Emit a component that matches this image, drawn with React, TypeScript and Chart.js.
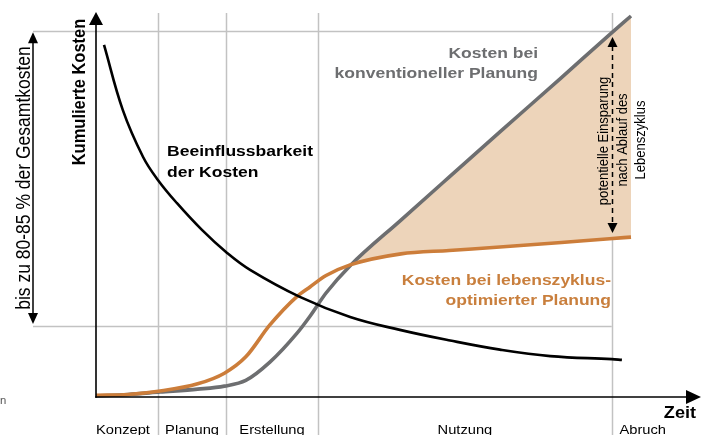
import React, { useEffect, useRef } from 'react';
import { Chart, registerables } from 'chart.js';

Chart.register(...registerables);

// ---------- data ----------
const phaseLabels = ['Konzept', 'Planung', 'Erstellung', 'Nutzung', 'Abruch'];
const phaseBounds = [11.6, 24.3, 41.5, 96.4]; // time at which a phase ends
const budgetBand = [18.4, 96.0]; // "bis zu 80-85 % der Gesamtkosten"

const timeAxis = [0, 6, 12, 19, 24, 28, 32.5, 37.5, 40, 43, 47.5, 57, 66, 75.5, 87, 96, 100];
const conventionalCost = [0, 0.4, 1.05, 1.8, 2.6, 4.1, 8.9, 16.4, 21.0, 27.1, 34.3, 46.3, 57.6, 69.5, 83.8, 95.1, 100];
const lifecycleCost = [0.2, 0.4, 1.3, 3.2, 6.0, 10.3, 18.7, 26.1, 28.7, 31.7, 34.5, 37.4, 38.3, 39.2, 40.4, 41.4, 41.8];

const influenceTime = [1.5, 5.0, 8.8, 11.6, 15.1, 19.8, 24.3, 28.8, 38.1, 47.5, 56.8, 66.2, 75.5, 84.9, 96.4, 98.3];
const influenceLevel = [92.4, 75.3, 62.9, 56.8, 50.8, 43.7, 37.9, 33.2, 26.1, 20.8, 17.4, 14.6, 12.2, 10.5, 9.7, 9.5];

// ---------- styles ----------
const FAMILY = "'Liberation Sans', Arial, Helvetica, sans-serif";
const STRETCH = 1.13;
const GRAY = '#6d6e70';
const ORANGE = '#cc7d3a';
const ORANGE_TEXT = '#c97f3d';
const FILL = '#edd4ba';
const GRID = '#c2c2c2';

function drawText(
  ctx: CanvasRenderingContext2D,
  s: string,
  x: number,
  y: number,
  font: string,
  color: string,
  align: CanvasTextAlign,
  rotate = false
) {
  ctx.save();
  ctx.translate(x, y);
  ctx.scale(STRETCH, 1);
  if (rotate) ctx.rotate(-Math.PI / 2);
  ctx.font = font;
  ctx.fillStyle = color;
  ctx.textAlign = align;
  ctx.textBaseline = 'alphabetic';
  ctx.fillText(s, 0, 0);
  ctx.restore();
}

function tri(ctx: CanvasRenderingContext2D, pts: number[][]) {
  ctx.beginPath();
  ctx.moveTo(pts[0][0], pts[0][1]);
  for (let i = 1; i < pts.length; i++) ctx.lineTo(pts[i][0], pts[i][1]);
  ctx.closePath();
  ctx.fill();
}

function seg(ctx: CanvasRenderingContext2D, x1: number, y1: number, x2: number, y2: number) {
  ctx.beginPath();
  ctx.moveTo(x1, y1);
  ctx.lineTo(x2, y2);
  ctx.stroke();
}

const diagramPlugin = {
  id: 'diagram',
  beforeDatasetsDraw(chart: any) {
    const ctx: CanvasRenderingContext2D = chart.ctx;
    const X = (v: number) => chart.scales.x.getPixelForValue(v);
    const Y = (v: number) => chart.scales.y.getPixelForValue(v);
    const ca = chart.chartArea;
    ctx.save();
    ctx.strokeStyle = GRID;
    ctx.lineWidth = 1.5;
    phaseBounds.forEach((b) => {
      const px = Math.round(X(b)) + 0.5;
      seg(ctx, px, ca.top - 3, px, chart.height);
    });
    const right = X(phaseBounds[phaseBounds.length - 1]);
    budgetBand.forEach((lv) => {
      const py = Math.round(Y(lv)) + 0.5;
      seg(ctx, 33, py, right, py);
    });
    ctx.restore();
  },
  afterDatasetsDraw(chart: any) {
    const ctx: CanvasRenderingContext2D = chart.ctx;
    const X = (v: number) => chart.scales.x.getPixelForValue(v);
    const Y = (v: number) => chart.scales.y.getPixelForValue(v);
    const ca = chart.chartArea;
    const W = chart.width;
    ctx.save();
    ctx.strokeStyle = '#000';
    ctx.fillStyle = '#000';
    ctx.lineWidth = 1.6;

    // axes with arrows
    const ax = ca.left;
    const ay = ca.bottom + 1;
    seg(ctx, ax, ay + 0.8, ax, ca.top + 8);
    tri(ctx, [[ax, ca.top - 4], [ax - 7, ca.top + 9], [ax + 7, ca.top + 9]]);
    seg(ctx, ax - 0.8, ay, W - 14, ay);
    tri(ctx, [[W - 1, ay], [W - 16, ay - 7], [W - 16, ay + 7]]);

    // left bracket (80-85 %)
    const bx = 33;
    const bTop = Y(budgetBand[1]);
    const bBot = Y(budgetBand[0]);
    ctx.lineWidth = 1.5;
    seg(ctx, bx, bTop + 8, bx, bBot - 8);
    tri(ctx, [[bx, bTop + 1], [bx - 5, bTop + 12], [bx + 5, bTop + 12]]);
    tri(ctx, [[bx, bBot - 2], [bx - 5, bBot - 13], [bx + 5, bBot - 13]]);

    // dashed savings arrow
    const sx = Math.round(X(phaseBounds[3])) + 0.5;
    const sTop = 37;
    const sBot = 233;
    ctx.save();
    ctx.setLineDash([5, 4]);
    ctx.lineWidth = 1.5;
    seg(ctx, sx, sTop + 9, sx, sBot - 9);
    ctx.restore();
    tri(ctx, [[sx, sTop], [sx - 5, sTop + 10], [sx + 5, sTop + 10]]);
    tri(ctx, [[sx, sBot], [sx - 5, sBot - 10], [sx + 5, sBot - 10]]);

    // texts
    const bold = (s: number) => `bold ${s}px ${FAMILY}`;
    const reg = (s: number) => `${s}px ${FAMILY}`;
    drawText(ctx, 'bis zu 80-85 % der Gesamtkosten', 30, 178, reg(17.5), '#000', 'center', true);
    drawText(ctx, 'Kumulierte Kosten', 85, 92, bold(16.5), '#000', 'center', true);

    drawText(ctx, 'Beeinflussbarkeit', 167, 156, bold(15.5), '#000', 'left');
    drawText(ctx, 'der Kosten', 167, 177, bold(15.5), '#000', 'left');

    drawText(ctx, 'Kosten bei', 538, 57.5, bold(15.5), GRAY, 'right');
    drawText(ctx, 'konventioneller Planung', 538, 78, bold(15.5), GRAY, 'right');

    drawText(ctx, 'Kosten bei lebenszyklus-', 611, 284.5, bold(15.5), ORANGE_TEXT, 'right');
    drawText(ctx, 'optimierter Planung', 611, 305, bold(15.5), ORANGE_TEXT, 'right');

    drawText(ctx, 'potentielle Einsparung', 607.5, 141, reg(13), '#000', 'center', true);
    drawText(ctx, 'nach Ablauf des', 627, 140, reg(13), '#000', 'center', true);
    drawText(ctx, 'Lebenszyklus', 645, 140, reg(13), '#000', 'center', true);

    drawText(ctx, 'Zeit', 696, 418, bold(16), '#000', 'right');

    // phase labels
    const starts = [0, ...phaseBounds];
    const ends = [...phaseBounds, 108];
    phaseLabels.forEach((lab, i) => {
      if (i === 0) {
        drawText(ctx, lab, X(starts[0]), 434, reg(13), '#000', 'left');
      } else {
        drawText(ctx, lab, (X(starts[i]) + X(ends[i])) / 2, 434, reg(13), '#000', 'center');
      }
    });

    drawText(ctx, 'n', 0, 404, reg(10), '#555', 'left');
    ctx.restore();
  },
};

export default function App() {
  const ref = useRef<HTMLCanvasElement | null>(null);

  useEffect(() => {
    if (!ref.current) return;
    const chart = new Chart(ref.current, {
      type: 'line',
      data: {
        datasets: [
          {
            label: 'Beeinflussbarkeit der Kosten',
            data: influenceTime.map((x, i) => ({ x, y: influenceLevel[i] })),
            borderColor: '#000',
            borderWidth: 2.6,
            pointRadius: 0,
            cubicInterpolationMode: 'default',
            tension: 0.4,
            fill: false,
            clip: false,
          },
          {
            label: 'Kosten bei lebenszyklus-optimierter Planung',
            data: timeAxis.map((x, i) => ({ x, y: lifecycleCost[i] })),
            borderColor: ORANGE,
            borderWidth: 3.6,
            pointRadius: 0,
            cubicInterpolationMode: 'monotone',
            fill: false,
            clip: false,
          },
          {
            label: 'Kosten bei konventioneller Planung',
            data: timeAxis.map((x, i) => ({ x, y: conventionalCost[i] })),
            borderColor: GRAY,
            borderWidth: 3.6,
            pointRadius: 0,
            cubicInterpolationMode: 'monotone',
            fill: { target: 1, above: FILL, below: 'rgba(0,0,0,0)' },
            clip: false,
          },
        ],
      } as any,
      options: {
        responsive: false,
        animation: false,
        events: [],
        layout: { padding: { left: 96, right: 71, top: 16, bottom: 39 } },
        scales: {
          x: { type: 'linear', min: 0, max: 100, display: false },
          y: { type: 'linear', min: 0, max: 100, display: false },
        },
        plugins: {
          legend: { display: false },
          tooltip: { enabled: false },
        },
        elements: { line: { borderCapStyle: 'butt', borderJoinStyle: 'round' } },
      } as any,
      plugins: [diagramPlugin],
    });
    return () => chart.destroy();
  }, []);

  return (
    <div style={{ position: 'fixed', left: 0, top: 0, width: 702, height: 435, background: '#fff' }}>
      <canvas ref={ref} width={702} height={435} style={{ display: 'block' }} />
    </div>
  );
}
